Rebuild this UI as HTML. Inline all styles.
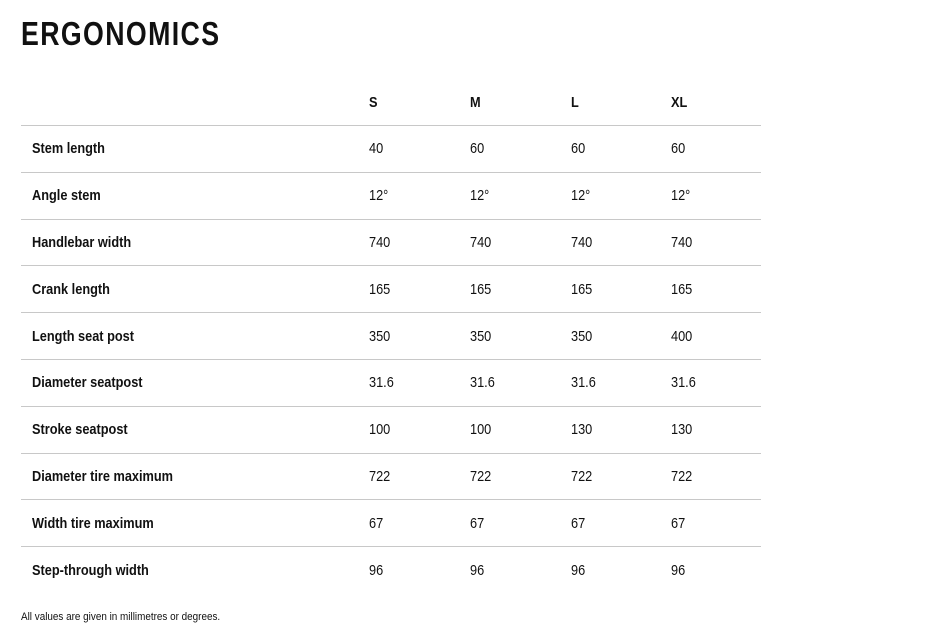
<!DOCTYPE html>
<html><head><meta charset="utf-8"><style>
body{margin:0;width:934px;height:643px;background:#fff;position:relative;font-family:"Liberation Sans",sans-serif;color:#111;overflow:hidden}
.t{position:absolute;white-space:nowrap;transform:scaleX(0.85);transform-origin:left center;font-size:15px;line-height:16px}
.b{font-weight:bold}
.h{position:absolute;left:21px;width:740px;height:1px;background:#c8c8c8}
</style></head><body>
<div class="t b" style="left:21px;top:16px;font-size:33px;line-height:36px;letter-spacing:1.7px;transform:scaleX(0.81)">ERGONOMICS</div>
<div class="t b" style="left:369px;top:95px">S</div>
<div class="t b" style="left:470px;top:95px">M</div>
<div class="t b" style="left:571px;top:95px">L</div>
<div class="t b" style="left:671px;top:95px">XL</div>
<div id="rows"></div>
<div class="t" style="left:21px;top:609px;font-size:11px;transform:scaleX(0.9)">All values are given in millimetres or degrees.</div>
<script>
var d=[["Stem length","40","60","60","60"],["Angle stem","12°","12°","12°","12°"],["Handlebar width","740","740","740","740"],["Crank length","165","165","165","165"],["Length seat post","350","350","350","400"],["Diameter seatpost","31.6","31.6","31.6","31.6"],["Stroke seatpost","100","100","130","130"],["Diameter tire maximum","722","722","722","722"],["Width tire maximum","67","67","67","67"],["Step-through width","96","96","96","96"]];
var xs=[32,369,470,571,671],h="";
for(var i=0;i<d.length;i++){var ly=125+i*46.8;h+='<div class="h" style="top:'+Math.round(ly)+'px"></div>';var ty=Math.round(ly+16.3);
for(var j=0;j<5;j++)h+='<div class="t'+(j==0?' b':'')+'" style="left:'+xs[j]+'px;top:'+ty+'px">'+d[i][j]+'</div>';}
document.getElementById('rows').innerHTML=h;
</script>
</body></html>
